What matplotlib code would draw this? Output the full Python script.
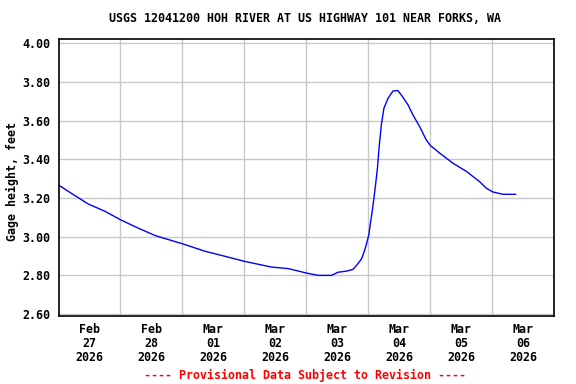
import matplotlib
matplotlib.use("Agg")
import matplotlib.pyplot as plt
import matplotlib.dates as mdates
import numpy as np
from datetime import datetime, timedelta

title = "USGS 12041200 HOH RIVER AT US HIGHWAY 101 NEAR FORKS, WA"
ylabel = "Gage height, feet"
footer = "---- Provisional Data Subject to Revision ----"

start = datetime(2026, 2, 27)
hours = [0, 6.4, 11.5, 18, 24.1, 30.9, 37.4, 43.8, 48.1, 56.7, 63.2, 72.2,
         82.5, 89, 96.1, 100.6, 105.8, 108.3, 111.6, 114.1, 116, 117.4,
         118.6, 119.5, 120.3, 120.8, 121.5, 122.1, 122.8, 123.6, 124.2,
         125.1, 126.1, 127.7, 129.6, 131.5, 132.8, 135.4, 137.3, 139.9,
         142.5, 144.1, 147.7, 152.8, 158, 163.2, 165.8, 168.3, 172.2, 177.1]
gage = [3.267, 3.212, 3.169, 3.131, 3.087, 3.044, 3.006, 2.98, 2.963, 2.925,
        2.903, 2.872, 2.843, 2.835, 2.812, 2.80, 2.80, 2.816, 2.822, 2.831,
        2.86, 2.885, 2.928, 2.97, 3.014, 3.065, 3.125, 3.185, 3.262, 3.356,
        3.458, 3.578, 3.664, 3.715, 3.753, 3.755, 3.733, 3.682, 3.63, 3.57,
        3.50, 3.471, 3.432, 3.38, 3.338, 3.284, 3.25, 3.231, 3.219, 3.219]
yticks = [2.60, 2.80, 3.00, 3.20, 3.40, 3.60, 3.80, 4.00]
xtick_labels = ["Feb\n27\n2026", "Feb\n28\n2026", "Mar\n01\n2026", "Mar\n02\n2026",
                "Mar\n03\n2026", "Mar\n04\n2026", "Mar\n05\n2026", "Mar\n06\n2026"]

times = [start + timedelta(hours=h) for h in hours]

font = "DejaVu Sans Mono"
fs = 8.4
W, H = 576, 384
fig = plt.figure(figsize=(W / 100, H / 100), dpi=100)
ax = fig.add_axes([58.5 / W, 1 - 316 / H, (554 - 58.5) / W, (316 - 39.3) / H])

ax.plot(times, gage, color="#0000ff", lw=1.0)

ax.set_xlim(start, start + timedelta(days=8))
ax.set_ylim(2.59, 4.02)

ax.set_yticks(yticks)
ax.set_yticklabels([f"{v:.2f}" for v in yticks], fontfamily=font,
                   fontweight="bold", fontsize=fs)

major = [start + timedelta(days=d) for d in range(1, 8)]
minor = [start + timedelta(days=d, hours=12) for d in range(8)]
ax.set_xticks(major)
ax.set_xticklabels([])
ax.set_xticks(minor, minor=True)
ax.set_xticklabels(xtick_labels, minor=True, fontfamily=font,
                   fontweight="bold", fontsize=fs, linespacing=1.08)
ax.tick_params(axis="x", which="both", length=0, pad=5)
ax.tick_params(axis="y", length=0, pad=6)

ax.grid(True, which="major", color="#c8c8c8", lw=1.0)
ax.set_axisbelow(True)
for s in ax.spines.values():
    s.set_linewidth(1.2)
    s.set_color("black")

fig.text(305 / W, 1 - 19 / H, title, ha="center", va="center",
         fontfamily=font, fontweight="bold", fontsize=fs)
fig.text(12 / W, 1 - 182 / H, ylabel, ha="center", va="center", rotation=90,
         fontfamily=font, fontweight="bold", fontsize=fs)
fig.text(305 / W, 1 - 375 / H, footer, ha="center", va="center", color="red",
         fontfamily=font, fontweight="bold", fontsize=fs)

fig.savefig("out.png", dpi=100)
